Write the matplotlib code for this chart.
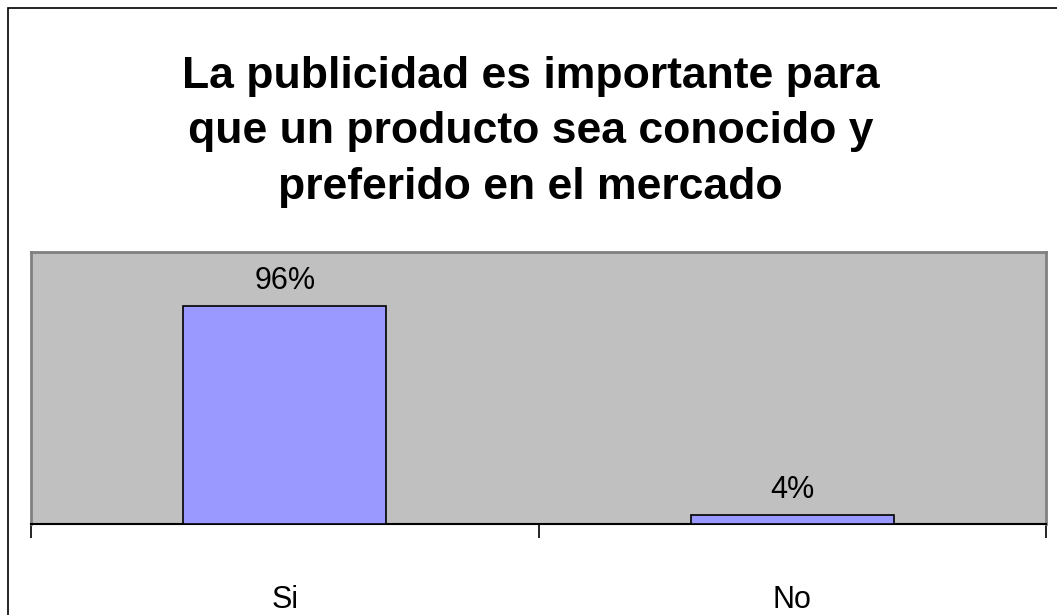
import matplotlib.pyplot as plt
from matplotlib.patches import Rectangle

plt.rcParams['font.family'] = ['Liberation Sans', 'DejaVu Sans']

# Data
categories = ['Si', 'No']
values = [0.96, 0.04]
value_labels = ['96%', '4%']
title = 'La publicidad es importante para\nque un producto sea conocido y\npreferido en el mercado'

fig = plt.figure(figsize=(10.57, 6.15), dpi=100)
ax = fig.add_axes([31 / 1057, 1 - 524 / 615, 1015 / 1057, 272 / 615])

# Figure border (right and bottom edges fall outside the image)
fig.patches.append(Rectangle((8 / 1057, -0.05), 1.2, (615 - 8) / 615 + 0.05,
                             transform=fig.transFigure, fill=False,
                             edgecolor='black', linewidth=1.2))

ax.set_facecolor('#C0C0C0')
x = range(len(categories))
ax.bar(x, values, width=0.4, color='#9999FF', edgecolor='black', linewidth=1.2, zorder=3)
for xi, v, lab in zip(x, values, value_labels):
    ax.text(xi, v + 0.045, lab, ha='center', va='bottom', fontsize=22)

ax.set_xlim(-0.5, 1.5)
ax.set_ylim(0, 1.2)
ax.set_yticks([])
ax.set_xticks([-0.5, 0.5, 1.5])
ax.set_xticklabels([])
ax.set_xticks([0, 1], minor=True)
ax.set_xticklabels(categories, minor=True, fontsize=22)
ax.tick_params(axis='x', which='major', length=10, width=1.2, color='black')
ax.tick_params(axis='x', which='minor', length=0, pad=44)

for side in ['top', 'left', 'right']:
    ax.spines[side].set_color('#808080')
    ax.spines[side].set_linewidth(2)
ax.spines['bottom'].set_color('black')
ax.spines['bottom'].set_linewidth(1.5)

fig.text(0.502, 1 - 132 / 615, title, ha='center', va='center',
         fontsize=32, fontweight='bold', linespacing=1.45)

fig.savefig('out.png', dpi=100)
